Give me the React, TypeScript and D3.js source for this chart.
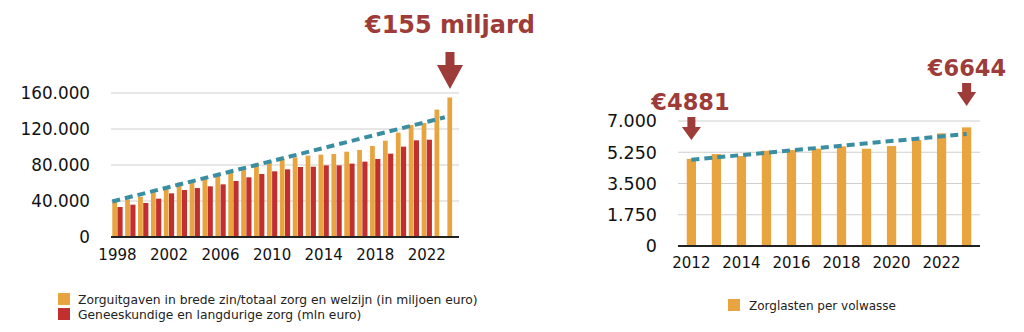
import React from "react";
import * as d3 from "d3";

// ---------- Data ----------
const yearsLeft = [1998,1999,2000,2001,2002,2003,2004,2005,2006,2007,2008,2009,2010,2011,2012,2013,2014,2015,2016,2017,2018,2019,2020,2021,2022,2023,2024];
const totalZorg = [39000,41800,44800,49600,56300,60400,62600,64400,67800,71900,77000,81900,85200,87000,88500,90400,91500,92200,94800,96700,101100,107000,116000,124400,126700,141500,155000];
const geneeskundig = [33300,35900,37800,42600,48500,52200,54400,56300,58500,62200,66300,70000,73000,75200,77800,78100,79600,79600,81500,83700,86700,92600,100400,107400,108100,null,null];
const leftTrend = [{ year: 1998, value: 39500 }, { year: 2023, value: 133000 }];
const leftYTicks = [0, 40000, 80000, 120000, 160000];
const leftXTicks = [1998, 2002, 2006, 2010, 2014, 2018, 2022];

const yearsRight = [2012,2013,2014,2015,2016,2017,2018,2019,2020,2021,2022,2023];
const zorglasten = [4881,5148,5036,5335,5373,5448,5579,5448,5597,5934,6309,6644];
const rightTrend = [{ year: 2012, value: 4830 }, { year: 2023, value: 6270 }];
const rightYTicks = [0, 1750, 3500, 5250, 7000];
const rightXTicks = [2012, 2014, 2016, 2018, 2020, 2022];

const legendLeft = ["Zorguitgaven in brede zin/totaal zorg en welzijn (in miljoen euro)", "Geneeskundige en langdurige zorg (mln euro)"];
const legendRight = ["Zorglasten per volwasse"];
const annLeft = "€155 miljard";
const annRightStart = "€4881";
const annRightEnd = "€6644";

const ORANGE = "#e8a43e";
const RED = "#c1302f";
const TEAL = "#3a8ea2";
const ANN = "#9d3c39";
const FONT = "'DejaVu Sans', Verdana, sans-serif";

const fmt = (v: number) => d3.format(",")(v).replace(/,/g, ".");

function Arrow({ cx, top, tip, headY, shaftW, headW }: { cx: number; top: number; tip: number; headY: number; shaftW: number; headW: number }) {
  const p = [
    [cx - shaftW / 2, top], [cx + shaftW / 2, top], [cx + shaftW / 2, headY], [cx + headW / 2, headY],
    [cx, tip], [cx - headW / 2, headY], [cx - shaftW / 2, headY],
  ];
  return <polygon points={p.map((d) => d.join(",")).join(" ")} fill={ANN} />;
}

export default function App() {
  // Left chart scales
  const xL = d3.scaleBand<number>().domain(yearsLeft).range([111, 459]).paddingInner(0.2).paddingOuter(0.1);
  const subL = d3.scaleBand<string>().domain(["a", "b"]).range([0, xL.bandwidth()]).padding(0);
  const yL = d3.scaleLinear().domain([0, 160000]).range([237, 93]);

  // Right chart scales
  const xR = d3.scaleBand<number>().domain(yearsRight).range([678, 980]).paddingInner(0.63).paddingOuter(0.35);
  const yR = d3.scaleLinear().domain([0, 7000]).range([246, 121]);

  const lt0 = xL(leftTrend[0].year)!;
  const lt1 = xL(leftTrend[1].year)! + xL.bandwidth();
  const rt0 = xR(rightTrend[0].year)! + xR.bandwidth() / 2;
  const rt1 = xR(rightTrend[1].year)! + xR.bandwidth() / 2;

  const lastL = yearsLeft[yearsLeft.length - 1];
  const arrowLx = xL(lastL)! + subL.bandwidth() / 2;
  const arrowR0 = xR(yearsRight[0])! + xR.bandwidth() / 2;
  const arrowR1 = xR(yearsRight[yearsRight.length - 1])! + xR.bandwidth() / 2;

  return (
    <svg width={1024} height={332} style={{ position: "absolute", left: 0, top: 0 }} fontFamily={FONT}>
      <rect width={1024} height={332} fill="#fff" />
      {/* LEFT CHART */}
      {leftYTicks.map((t) => (
        <g key={"lg" + t}>
          {t !== 0 && <line x1={111} x2={459} y1={yL(t)} y2={yL(t)} stroke="#cfcfcf" strokeWidth={1.2} />}
          <text x={90} y={yL(t)} dy="0.36em" textAnchor="end" fontSize={16.8} fill="#111">{fmt(t)}</text>
        </g>
      ))}
      {yearsLeft.map((yr, i) => (
        <g key={"lb" + yr}>
          <rect x={xL(yr)! + subL("a")!} y={yL(totalZorg[i])} width={subL.bandwidth() - 0.4} height={yL(0) - yL(totalZorg[i])} fill={ORANGE} />
          {geneeskundig[i] != null && (
            <rect x={xL(yr)! + subL("b")!} y={yL(geneeskundig[i] as number)} width={subL.bandwidth()} height={yL(0) - yL(geneeskundig[i] as number)} fill={RED} />
          )}
        </g>
      ))}
      <line x1={lt0} x2={lt1} y1={yL(leftTrend[0].value)} y2={yL(leftTrend[1].value)} stroke={TEAL} strokeWidth={4} strokeDasharray="8,5" />
      <line x1={111} x2={459} y1={yL(0)} y2={yL(0)} stroke="#222" strokeWidth={2} />
      {leftXTicks.map((t) => (
        <text key={"lx" + t} x={xL(t)! + xL.bandwidth() / 2} y={260} textAnchor="middle" fontSize={15} fill="#111">{t}</text>
      ))}
      <text x={450} y={33} textAnchor="middle" fontSize={24} fontWeight="bold" fill={ANN}>{annLeft}</text>
      <Arrow cx={arrowLx} top={52} headY={65} tip={89} shaftW={9} headW={26} />

      {/* Left legend */}
      <rect x={58} y={293} width={12} height={12} fill={ORANGE} />
      <rect x={58} y={308} width={12} height={12} fill={RED} />
      <text x={78} y={303.5} fontSize={12.3} fill="#222">{legendLeft[0]}</text>
      <text x={78} y={318.5} fontSize={12.3} fill="#222">{legendLeft[1]}</text>

      {/* RIGHT CHART */}
      {rightYTicks.map((t) => (
        <g key={"rg" + t}>
          {t !== 0 && <line x1={678} x2={980} y1={yR(t)} y2={yR(t)} stroke="#cfcfcf" strokeWidth={1.2} />}
          <text x={657} y={yR(t)} dy="0.36em" textAnchor="end" fontSize={17.5} fill="#111">{fmt(t)}</text>
        </g>
      ))}
      {yearsRight.map((yr, i) => (
        <rect key={"rb" + yr} x={xR(yr)!} y={yR(zorglasten[i])} width={xR.bandwidth()} height={yR(0) - yR(zorglasten[i])} fill={ORANGE} />
      ))}
      <line x1={rt0} x2={rt1} y1={yR(rightTrend[0].value)} y2={yR(rightTrend[1].value)} stroke={TEAL} strokeWidth={4} strokeDasharray="8,5" />
      <line x1={678} x2={980} y1={yR(0)} y2={yR(0)} stroke="#222" strokeWidth={2} />
      {rightXTicks.map((t) => (
        <text key={"rx" + t} x={xR(t)! + xR.bandwidth() / 2} y={268} textAnchor="middle" fontSize={15} fill="#111">{t}</text>
      ))}
      <text x={690.5} y={110} textAnchor="middle" fontSize={22.5} fontWeight="bold" fill={ANN}>{annRightStart}</text>
      <Arrow cx={arrowR0} top={117} headY={127} tip={140} shaftW={8} headW={19} />
      <text x={967} y={76} textAnchor="middle" fontSize={22.5} fontWeight="bold" fill={ANN}>{annRightEnd}</text>
      <Arrow cx={arrowR1} top={83} headY={92} tip={106} shaftW={9} headW={19} />

      {/* Right legend */}
      <rect x={728} y={299} width={12} height={12} fill={ORANGE} />
      <text x={749} y={309.5} fontSize={12} fill="#222">{legendRight[0]}</text>
    </svg>
  );
}
